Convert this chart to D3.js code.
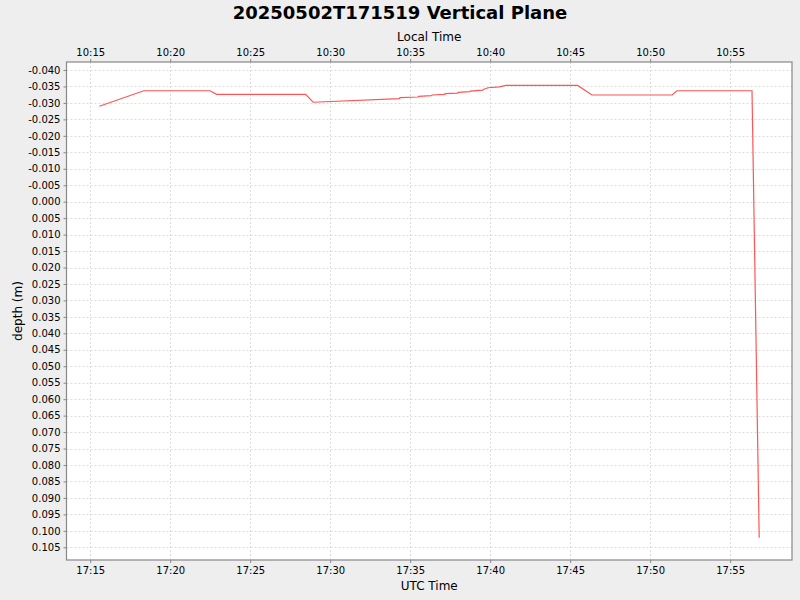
<!DOCTYPE html>
<html>
<head>
<meta charset="utf-8">
<script src="https://cdn.jsdelivr.net/npm/d3@7"></script>
<style>
  body { margin: 0; background: #eeeeee; }
  svg { display: block; font-family: "DejaVu Sans", sans-serif; }
</style>
</head>
<body>
<svg id="chart"></svg>
<script>
// sample times (UTC, 2025-05-02) and depth readings
const times = ["17:15:34", "17:18:21", "17:22:29", "17:22:54", "17:28:28", "17:28:56",
  "17:34:20", "17:34:22", "17:35:30", "17:35:32", "17:36:20", "17:36:22", "17:37:09",
  "17:37:11", "17:37:58", "17:38:00", "17:38:43", "17:38:45", "17:39:32", "17:39:34",
  "17:39:52", "17:40:35", "17:40:58", "17:45:28", "17:46:22", "17:51:22", "17:51:41",
  "17:56:22", "17:56:49"];
const depths = [-0.0290, -0.0337, -0.0337, -0.0326, -0.0326, -0.0302,
  -0.0313, -0.0316, -0.0318, -0.0320, -0.0322, -0.0324, -0.0326,
  -0.0328, -0.0330, -0.0332, -0.0334, -0.0336, -0.0339, -0.0341,
  -0.0346, -0.0349, -0.0353, -0.0353, -0.0324, -0.0324, -0.0337,
  -0.0337, 0.1021];
const yTicks = d3.range(-40, 106, 5).map(v => v / 1000);
const timeDomain = ["17:13:31", "17:58:52"];
const depthDomain = [-0.04243, 0.10886];
const localOffsetHours = -7;

let width = 800, height = 600;
let margin = ({top: 62, right: 8, bottom: 40, left: 66.5});

const parse = s => new Date(`2025-05-02T${s}Z`);
const data = times.map((t, i) => ({t: parse(t), v: depths[i]}));

const svg = d3.select('#chart').attr('width', width).attr('height', height);
svg.append('rect').attr('width', width).attr('height', height).attr('fill', '#eeeeee');

let x = d3.scaleUtc()
  .domain(timeDomain.map(parse))
  .range([margin.left, width - margin.right]);

let xLocal = d3.scaleUtc()
  .domain(x.domain().map(d => new Date(+d + localOffsetHours * 3600e3)))
  .range(x.range());

let y = d3.scaleLinear()
  .domain(depthDomain)
  .range([margin.top, height - margin.bottom]);

const fmtTime = d3.utcFormat('%H:%M');
const every5 = d3.utcMinute.every(5);

// plot background
svg.append('rect')
  .attr('x', margin.left).attr('y', margin.top)
  .attr('width', width - margin.right - margin.left)
  .attr('height', height - margin.bottom - margin.top)
  .attr('fill', '#ffffff');

// grid
const grid = svg.append('g')
  .attr('stroke', '#dddddd').attr('stroke-width', 1).attr('stroke-dasharray', '2,2');
grid.selectAll('.gx').data(x.ticks(every5)).join('line')
  .attr('x1', d => Math.round(x(d)) + 0.5).attr('x2', d => Math.round(x(d)) + 0.5)
  .attr('y1', margin.top).attr('y2', height - margin.bottom);
grid.selectAll('.gy').data(yTicks).join('line')
  .attr('x1', margin.left).attr('x2', width - margin.right)
  .attr('y1', d => Math.round(y(d)) + 0.5).attr('y2', d => Math.round(y(d)) + 0.5);

// series
svg.append('path')
  .datum(data)
  .attr('fill', 'none')
  .attr('stroke', '#ff5555')
  .attr('stroke-width', 1.2)
  .attr('d', d3.line().x(d => x(d.t)).y(d => y(d.v)));

// axes
let styleAxis = g => {
  g.select('.domain').remove();
  g.selectAll('.tick line').attr('stroke', '#888888');
  g.selectAll('.tick text').attr('fill', '#000').attr('font-size', 10)
    .attr('font-family', '"DejaVu Sans", sans-serif');
};

svg.append('g')
  .attr('transform', `translate(0,${height - margin.bottom})`)
  .call(d3.axisBottom(x).ticks(every5).tickFormat(fmtTime).tickSize(3).tickPadding(4))
  .call(styleAxis);

svg.append('g')
  .attr('transform', `translate(0,${margin.top})`)
  .call(d3.axisTop(xLocal).ticks(every5).tickFormat(fmtTime).tickSize(3).tickPadding(3))
  .call(styleAxis);

svg.append('g')
  .attr('transform', `translate(${margin.left},0)`)
  .call(d3.axisLeft(y).tickValues(yTicks).tickFormat(d => d.toFixed(3)).tickSize(3).tickPadding(3))
  .call(styleAxis);

// plot border
svg.append('rect')
  .attr('x', margin.left).attr('y', margin.top)
  .attr('width', width - margin.right - margin.left)
  .attr('height', height - margin.bottom - margin.top)
  .attr('fill', 'none').attr('stroke', '#888888').attr('stroke-width', 1.2);

// labels
svg.append('text')
  .attr('x', 400).attr('y', 19)
  .attr('text-anchor', 'middle')
  .attr('font-size', 18).attr('font-weight', 'bold')
  .text('20250502T171519 Vertical Plane');

const midX = (margin.left + width - margin.right) / 2;
svg.append('text')
  .attr('x', midX).attr('y', 41)
  .attr('text-anchor', 'middle').attr('font-size', 12)
  .text('Local Time');

svg.append('text')
  .attr('x', midX).attr('y', 590)
  .attr('text-anchor', 'middle').attr('font-size', 12)
  .text('UTC Time');

svg.append('text')
  .attr('transform', `translate(22,${(margin.top + height - margin.bottom) / 2}) rotate(-90)`)
  .attr('text-anchor', 'middle').attr('font-size', 12)
  .text('depth (m)');
</script>
</body>
</html>
